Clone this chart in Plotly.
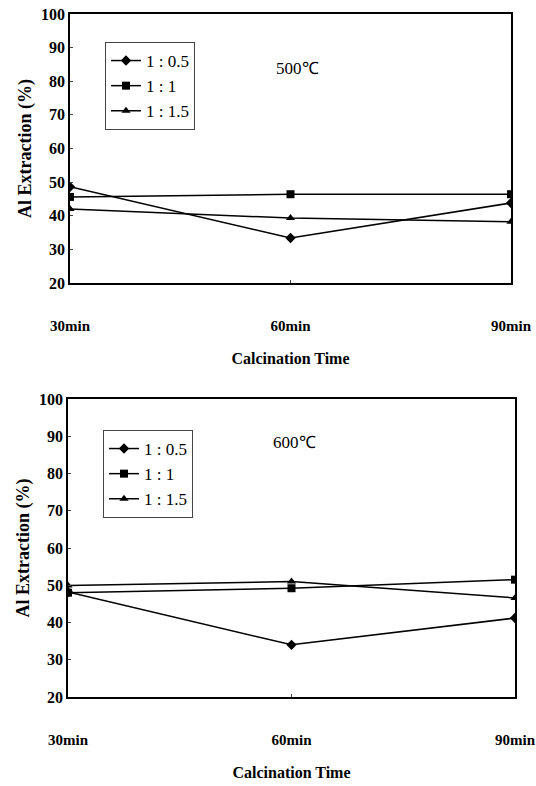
import plotly.graph_objects as go

times = ["30min", "60min", "90min"]
ratios = ["1 : 0.5", "1 : 1", "1 : 1.5"]
symbols = ["diamond", "square", "triangle-up"]

# 500 C
t500_r05 = [48.6, 33.4, 43.8]
t500_r10 = [45.6, 46.4, 46.4]
t500_r15 = [42.0, 39.3, 38.2]
# 600 C
t600_r05 = [48.2, 34.0, 41.2]
t600_r10 = [48.0, 49.2, 51.5]
t600_r15 = [49.9, 51.0, 46.6]

temps = ["500\u2103", "600\u2103"]
yticks = [20, 30, 40, 50, 60, 70, 80, 90, 100]

FONT = "Liberation Serif, Times New Roman, serif"
fig = go.Figure()

series = [
    [t500_r05, t500_r10, t500_r15],
    [t600_r05, t600_r10, t600_r15],
]

for p, group in enumerate(series):
    xa = "x" if p == 0 else "x2"
    ya = "y" if p == 0 else "y2"
    lg = "legend" if p == 0 else "legend2"
    for i, vals in enumerate(group):
        fig.add_trace(go.Scatter(
            x=times, y=vals, xaxis=xa, yaxis=ya, legend=lg,
            name=ratios[i], mode="lines+markers",
            line=dict(color="black", width=1.5),
            marker=dict(symbol=symbols[i], size=8, color="black"),
        ))

axis_common_y = dict(
    range=[20, 100], tickvals=yticks, ticks="inside", ticklen=3,
    showline=True, linecolor="black", linewidth=1.5, mirror=True,
    showgrid=False, zeroline=False, automargin=False,
    tickfont=dict(family=FONT, size=16, color="black", weight="bold"),
    title=dict(text="<b>Al Extraction (%)</b>", font=dict(family=FONT, size=18, color="black"), standoff=5),
)
axis_common_x = dict(
    type="category", range=[0, 2], ticks="inside", ticklen=3,
    showline=True, linecolor="black", linewidth=1.5, mirror=True,
    showgrid=False, zeroline=False, ticklabelstandoff=28, automargin=False,
    tickfont=dict(family=FONT, size=15, color="black", weight="bold"),
    title=dict(text="<b>Calcination Time</b>", font=dict(family=FONT, size=16, color="black"), standoff=20),
)

leg_common = dict(
    bgcolor="white", bordercolor="#444", borderwidth=1,
    font=dict(family=FONT, size=17, color="black"),
    xanchor="left", yanchor="top", itemwidth=30, tracegroupgap=0,
)

fig.update_layout(
    width=536, height=786,
    margin=dict(l=0, r=0, t=0, b=0, autoexpand=False),
    paper_bgcolor="white", plot_bgcolor="white",
    font=dict(family=FONT),
    showlegend=True,
    xaxis=dict(domain=[70/536, 511/536], anchor="y", **axis_common_x),
    yaxis=dict(domain=[1-283/786, 1-14/786], anchor="x", **axis_common_y),
    xaxis2=dict(domain=[68/536, 515/536], anchor="y2", **axis_common_x),
    yaxis2=dict(domain=[1-697/786, 1-399/786], anchor="x2", **axis_common_y),
    legend=dict(x=105/536, y=1-42/786, **leg_common),
    legend2=dict(x=103/536, y=1-430/786, **leg_common),
    annotations=[
        dict(text=temps[0], x=297/536, y=1-57/786, xref="paper", yref="paper",
             showarrow=False, font=dict(family=FONT, size=17, color="black")),
        dict(text=temps[1], x=294/536, y=1-443/786, xref="paper", yref="paper",
             showarrow=False, font=dict(family=FONT, size=17, color="black")),
    ],
)

fig.write_html("out.html")
